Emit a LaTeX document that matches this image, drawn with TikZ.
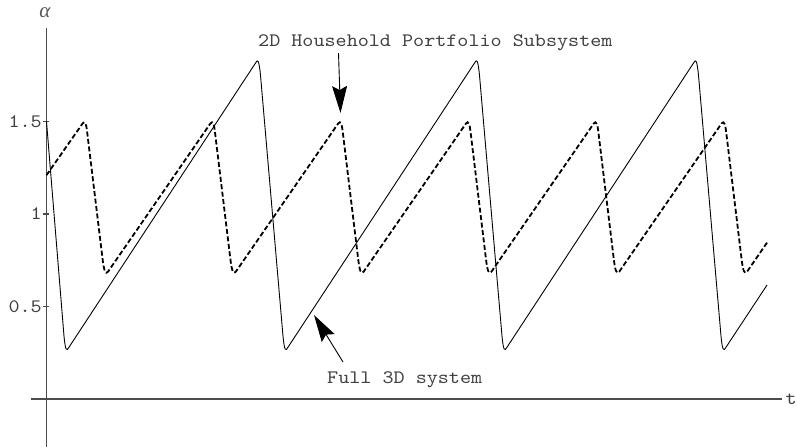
\documentclass[tikz,border=0pt]{standalone}
\usepackage{fontspec}
\setmainfont{Liberation Serif}
\newfontfamily\courfont{lmmono10-regular.otf}[FakeStretch=1.11]
\usetikzlibrary{arrows.meta}

\begin{document}
\begin{tikzpicture}[x=1pt,y=185pt,
    lbl/.style={font=\courfont\fontsize{19}{21}\selectfont, text=black!75, inner sep=0pt},
    axis/.style={black!70, line width=1.2pt},
    pointer/.style={-{Stealth[length=27pt,width=15pt,inset=4pt]}, line width=0.9pt}]
    \useasboundingbox (-46.5,-0.2595) rectangle (750.5,2.1568);
    \coordinate (xstart) at (-15.5,0);
    \coordinate (xend) at (735.5,0);
    \coordinate (ystart) at (0,-0.2595);
    \coordinate (yend) at (0,2.005);
    \draw[axis] (xstart) -- (xend);
    \draw[axis] (ystart) -- (yend);
    \node[lbl, anchor=west] (tlabel) at (739,0) {t};
    \node[font=\itshape\fontsize{21}{22}\selectfont, text=black!65, inner sep=0pt] (alabel) at (-1.5,2.086) {α};
    \foreach \v/\n in {0.5/a,1/b,1.5/c} {
        \draw[axis] (-3,\v) -- (3,\v);
        \node[lbl, anchor=east] (tick\n) at (-4.5,\v) {\v};
    }
    \draw[line width=0.9pt, line join=round] (0,1.5) -- (17.5,0.34) .. controls (19,0.26) and (20,0.255) .. (22.5,0.28)
        \foreach \p in {211.5,430.5,649.5} {
            -- (\p-2,1.82) .. controls (\p-0.5,1.835) and (\p+0.8,1.84) .. (\p+2.5,1.75)
            -- (\p+25,0.34) .. controls (\p+26.5,0.26) and (\p+27.5,0.255) .. (\p+30,0.28)
        } -- (720.5,0.616);
    \draw[line width=1.8pt, dash pattern=on 5pt off 2.5pt] (0,1.21)
        \foreach \p in {37.5,165.3,293.1,420.9,548.7,676.5} {
            -- (\p-3,1.477) .. controls (\p-1,1.493) and (\p+1.5,1.52) .. (\p+3,1.45)
            -- (\p+18.5,0.76) .. controls (\p+20,0.69) and (\p+21.5,0.672) .. (\p+24,0.688)
        } -- (720.5,0.845);
    \node[lbl, anchor=base west] (hhlabel) at (211.5,1.908) {2D Household Portfolio Subsystem};
    \node[lbl, anchor=base west] (fulllabel) at (280.5,0.0865) {Full 3D system};
    \coordinate (hhtail) at (292,1.870);
    \coordinate (hhtip) at (294,1.546);
    \coordinate (fulltail) at (296.5,0.2);
    \coordinate (fulltip) at (267.5,0.454);
    \draw[pointer] (hhtail) -- (hhtip);
    \draw[pointer] (fulltail) -- (fulltip);
\end{tikzpicture}
\end{document}
